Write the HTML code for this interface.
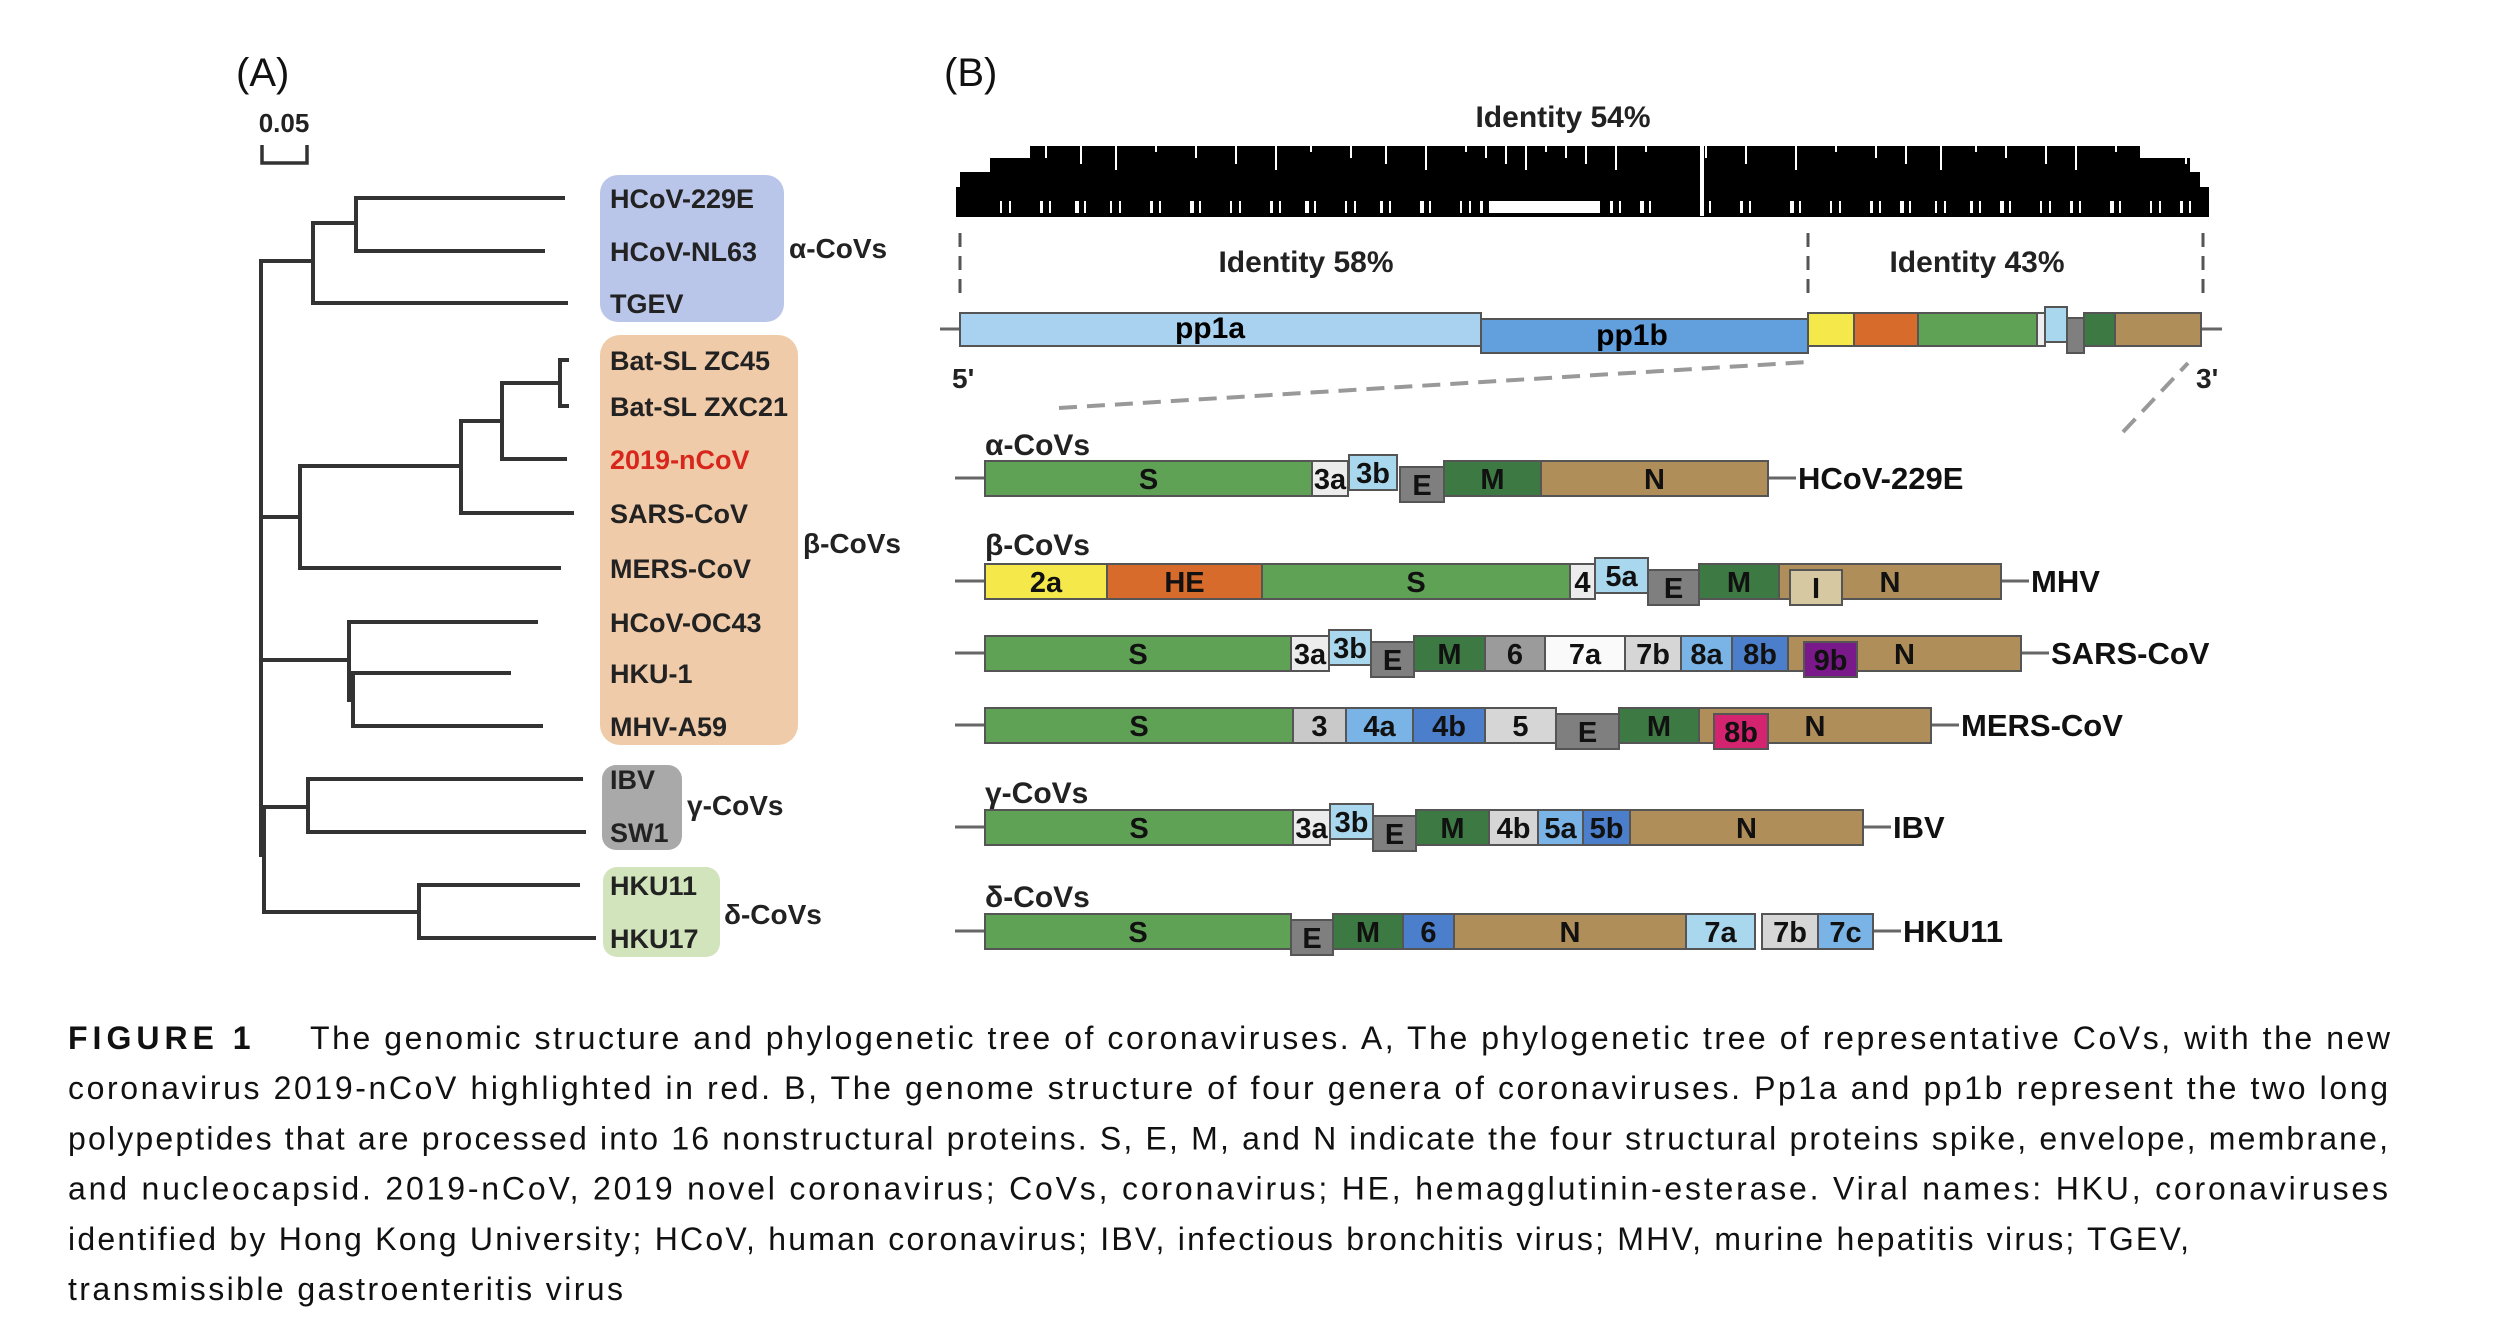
<!DOCTYPE html>
<html><head><meta charset="utf-8"><style>
html,body{margin:0;padding:0;background:#fff;}
svg{display:block;}
.t{font-family:"Liberation Sans",sans-serif;}
.n{font-family:"Liberation Sans Narrow","Liberation Sans",sans-serif;}
</style></head><body>
<svg id="fig" width="2500" height="1333" viewBox="0 0 2500 1333" xmlns="http://www.w3.org/2000/svg">
<rect width="2500" height="1333" fill="#fff"/>
<text class="t" x="236" y="86" font-size="40" fill="#111">(A)</text>
<text class="t" x="944" y="86" font-size="40" fill="#111">(B)</text>
<g>
<text class="t" x="284" y="132" font-size="26" font-weight="bold" text-anchor="middle" fill="#222">0.05</text>
<path d="M262 145 V163 H307 V145" fill="none" stroke="#333" stroke-width="3.5"/>
</g>
<g>
<rect x="600" y="175" width="184" height="147" rx="18" fill="#b9c5e9"/>
<rect x="600" y="335" width="198" height="410" rx="20" fill="#efcba9"/>
<rect x="602" y="765" width="80" height="85" rx="14" fill="#a9a9a9"/>
<rect x="603" y="867" width="117" height="90" rx="14" fill="#d2e4bb"/>
</g>
<g id="tree" fill="none" stroke="#333" stroke-width="4"></g>
<g id="leaves"></g>
<g class="t" font-size="28" font-weight="bold" fill="#222">
<text x="789" y="258">α-CoVs</text>
<text x="803" y="553">β-CoVs</text>
<text x="687" y="815">γ-CoVs</text>
<text x="724" y="924">δ-CoVs</text>
</g>

<text class="n" x="1563" y="127" font-size="30" font-weight="bold" text-anchor="middle" fill="#222">Identity 54%</text>
<g id="barcode"></g>
<g stroke="#555" stroke-width="3" stroke-dasharray="14,9">
<line x1="960" y1="233" x2="960" y2="295"/><line x1="1808" y1="233" x2="1808" y2="300"/><line x1="2203" y1="233" x2="2203" y2="300"/>
</g>
<text class="n" x="1306" y="272" font-size="30" font-weight="bold" text-anchor="middle" fill="#222">Identity 58%</text>
<text class="n" x="1977" y="272" font-size="30" font-weight="bold" text-anchor="middle" fill="#222">Identity 43%</text>
<g id="genome"></g>
<text class="n" x="952" y="388" font-size="28" font-weight="bold" fill="#222">5'</text>
<text class="n" x="2196" y="388" font-size="28" font-weight="bold" fill="#222">3'</text>
<g stroke="#999" stroke-width="4" stroke-dasharray="18,10">
<line x1="1059" y1="408" x2="1808" y2="362"/><line x1="2123" y1="432" x2="2188" y2="363"/>
</g>
<g id="rows"></g>
<g class="n" font-size="30" font-weight="bold" fill="#222">
<text x="985" y="455">α-CoVs</text><text x="985" y="555">β-CoVs</text><text x="985" y="803">γ-CoVs</text><text x="985" y="907">δ-CoVs</text>
</g>
<g id="caption" class="t" font-size="32" fill="#111"></g>
</svg>
<script>
const NS="http://www.w3.org/2000/svg";
const treeSegs=[[261,261,261,855],[261,261,313,261],[313,223,313,303],[313,223,356,223],[356,198,356,251],[356,198,563,198],[356,251,543,251],[313,303,566,303],
[261,517,300,517],[300,466,300,568],[300,466,461,466],[300,568,559,568],[461,421,461,513],[461,421,502,421],[461,513,572,513],[502,383,502,459],[502,383,560,383],[502,459,565,459],[560,360,560,406],[560,360,567,360],[560,406,567,406],
[261,660,349,660],[349,622,349,700],[349,622,536,622],[349,700,353,700],[353,673,353,726],[353,673,509,673],[353,726,541,726],
[261,855,264,855],[264,807,264,912],[264,807,308,807],[308,779,308,832],[308,779,581,779],[308,832,584,832],[264,912,419,912],[419,885,419,938],[419,885,578,885],[419,938,594,938]];
const leafNames=["HCoV-229E","HCoV-NL63","TGEV","Bat-SL ZC45","Bat-SL ZXC21","2019-nCoV","SARS-CoV","MERS-CoV","HCoV-OC43","HKU-1","MHV-A59","IBV","SW1","HKU11","HKU17"];
const leafY=[198,251,303,360,406,459,513,568,622,673,726,779,832,885,938];
const tree=document.getElementById('tree');
treeSegs.forEach(s=>{const l=document.createElementNS(NS,'line');
l.setAttribute('x1',s[0]);l.setAttribute('y1',s[1]);l.setAttribute('x2',s[2]);l.setAttribute('y2',s[3]);
l.setAttribute('stroke-linecap','square');


tree.appendChild(l);});
const leaves=document.getElementById('leaves');
leafNames.forEach((n,i)=>{const t=document.createElementNS(NS,'text');
t.setAttribute('x',610);t.setAttribute('y',leafY[i]+10);t.setAttribute('class','t');
t.setAttribute('font-size','27');t.setAttribute('font-weight','bold');
t.setAttribute('fill',n==='2019-nCoV'?'#d8261c':'#222');t.textContent=n;


leaves.appendChild(t);});

const bc=document.getElementById('barcode');
function rect(p,x,y,w,h,f,st){const r=document.createElementNS(NS,'rect');r.setAttribute('x',x);r.setAttribute('y',y);r.setAttribute('width',w);r.setAttribute('height',h);r.setAttribute('fill',f);if(st){r.setAttribute('stroke',st);r.setAttribute('stroke-width','2');}p.appendChild(r);return r;}
rect(bc,956,187,1253,30,'#000');
rect(bc,960,172,1240,16,'#000');
rect(bc,990,158,1200,15,'#000');
rect(bc,1030,146,1110,13,'#000');
const gapX=[1000,1040,1075,1110,1150,1190,1230,1270,1305,1345,1380,1420,1460,1480,1500,1520,1540,1560,1580,1610,1640,1700,1740,1790,1830,1870,1900,1935,1970,2000,2040,2070,2110,2150,2180];
gapX.forEach((x,i)=>{rect(bc,x,201,(i%3)+2,12,'#fff');rect(bc,x+9,201,2,12,'#fff');rect(bc,x+5,146,2,(i%4)*6+6,'#fff');});
rect(bc,1490,201,110,12,'#fff');
rect(bc,1700,146,4,70,'#fff');

const g=document.getElementById('genome');
const gl=document.createElementNS(NS,'line');gl.setAttribute('x1',940);gl.setAttribute('x2',2222);gl.setAttribute('y1',329);gl.setAttribute('y2',329);gl.setAttribute('stroke','#666');gl.setAttribute('stroke-width','3');g.appendChild(gl);
const gStart=[0,521,848,894,958,1077,1085,1107,1124,1155];
const gEnd=[521,848,894,958,1077,1085,1107,1124,1155,1241];
const gCol=['#a8d2ef','#62a0dd','#f4e84a','#d76b2c','#5fa155','#eeeeee','#a9d8ee','#7f7f7f','#3d7a43','#b08e5a'];
const gOff=[[313,33],[319,34],[313,33],[313,33],[313,33],[313,33],[307,35],[318,35],[313,33],[313,33]];
const gx=v=>960+v;
gStart.forEach((s,i)=>{const r=rect(g,gx(s),gOff[i][0],gEnd[i]-s,gOff[i][1],gCol[i],'#555');

});
const t1=document.createElementNS(NS,'text');t1.setAttribute('x',1210);t1.setAttribute('y',338);t1.setAttribute('class','n');t1.setAttribute('font-size','30');t1.setAttribute('font-weight','bold');t1.setAttribute('text-anchor','middle');t1.textContent='pp1a';g.appendChild(t1);
const t2=document.createElementNS(NS,'text');t2.setAttribute('x',1632);t2.setAttribute('y',345);t2.setAttribute('class','n');t2.setAttribute('font-size','30');t2.setAttribute('font-weight','bold');t2.setAttribute('text-anchor','middle');t2.textContent='pp1b';g.appendChild(t2);

const C={S:'#5fa155',w:'#ececec',lb:'#a9d8ee',E:'#7f7f7f',M:'#3d7a43',N:'#b08e5a',y:'#f4e84a',o:'#d76b2c',I:'#d6c9a2',g6:'#9b9b9b',wh:'#fafafa',lg:'#d6d6d6',mb:'#7ab4e6',db:'#4b7fcc',pu:'#7a1a8a',mg:'#d4246f',g3:'#c9c9c9'};
const rowNames=['HCoV-229E','MHV','SARS-CoV','MERS-CoV','IBV','HKU11'];
const rowY=[478,581,653,725,827,931];
const rowSegs=[
[['S',0,327,'S',0],['3a',327,363,'w',0],['3b',364,412,'lb',-1],['E',415,459,'E',1],['M',459,556,'M',0],['N',556,783,'N',0]],
[['2a',0,122,'y',0],['HE',122,277,'o',0],['S',277,585,'S',0],['4',585,610,'w',0],['5a',610,663,'lb',-1],['E',663,714,'E',1],['M',714,794,'M',0],['N',794,1016,'N',0],['I',805,857,'I',1]],
[['S',0,306,'S',0],['3a',306,344,'w',0],['3b',344,386,'lb',-1],['E',386,429,'E',1],['M',429,500,'M',0],['6',500,560,'g6',0],['7a',560,640,'wh',0],['7b',640,696,'lg',0],['8a',696,747,'mb',0],['8b',747,803,'db',0],['N',803,1036,'N',0],['9b',819,872,'pu',1]],
[['S',0,308,'S',0],['3',308,361,'g3',0],['4a',361,428,'mb',0],['4b',428,500,'db',0],['5',500,571,'lg',0],['E',571,634,'E',1],['M',634,714,'M',0],['N',714,946,'N',0],['8b',729,783,'mg',1]],
[['S',0,308,'S',0],['3a',308,345,'w',0],['3b',345,388,'lb',-1],['E',388,431,'E',1],['M',431,504,'M',0],['4b',504,553,'lg',0],['5a',553,598,'mb',0],['5b',598,645,'db',0],['N',645,878,'N',0]],
[['S',0,306,'S',0],['E',306,348,'E',1],['M',348,418,'M',0],['6',418,469,'db',0],['N',469,701,'N',0],['7a',701,770,'lb',0],['7b',777,833,'lg',0],['7c',833,888,'mb',0]]];
const rx=v=>985+v;
const rows=document.getElementById('rows');
rowSegs.forEach((segs,ri)=>{
 const yc=rowY[ri];const grp=document.createElementNS(NS,'g');
 
 
 rows.appendChild(grp);
 const endV=Math.max(...segs.map(s=>s[2]));
 const a=document.createElementNS(NS,'line');a.setAttribute('x1',rx(-30));a.setAttribute('x2',rx(0));a.setAttribute('y1',yc);a.setAttribute('y2',yc);a.setAttribute('stroke','#666');a.setAttribute('stroke-width','3');grp.appendChild(a);
 const b=document.createElementNS(NS,'line');b.setAttribute('x1',rx(endV));b.setAttribute('x2',rx(endV)+28);b.setAttribute('y1',yc);b.setAttribute('y2',yc);b.setAttribute('stroke','#666');b.setAttribute('stroke-width','3');grp.appendChild(b);
 segs.forEach(s=>{
  const top=yc-17+s[4]*6;
  const r=rect(grp,rx(s[1]),top,s[2]-s[1],35,C[s[3]],'#555');
  
  
  const t=document.createElementNS(NS,'text');
  t.setAttribute('x',rx((s[1]+s[2])/2));t.setAttribute('y',top+28);t.setAttribute('class','n');
  t.setAttribute('font-size','29');t.setAttribute('font-weight','bold');t.setAttribute('text-anchor','middle');
  t.setAttribute('fill','#111');t.textContent=s[0];grp.appendChild(t);
 });
 const lab=document.createElementNS(NS,'text');lab.setAttribute('x',rx(endV)+30);lab.setAttribute('y',yc+11);lab.setAttribute('class','n');lab.setAttribute('font-size','31');lab.setAttribute('font-weight','bold');lab.setAttribute('fill','#111');lab.textContent=rowNames[ri];
 
 
 grp.appendChild(lab);
});

const cap=document.getElementById('caption');
const capLines=["The genomic structure and phylogenetic tree of coronaviruses. A, The phylogenetic tree of representative CoVs, with the new",
"coronavirus 2019-nCoV highlighted in red. B, The genome structure of four genera of coronaviruses. Pp1a and pp1b represent the two long",
"polypeptides that are processed into 16 nonstructural proteins. S, E, M, and N indicate the four structural proteins spike, envelope, membrane,",
"and nucleocapsid. 2019-nCoV, 2019 novel coronavirus; CoVs, coronavirus; HE, hemagglutinin-esterase. Viral names: HKU, coronaviruses",
"identified by Hong Kong University; HCoV, human coronavirus; IBV, infectious bronchitis virus; MHV, murine hepatitis virus; TGEV,",
"transmissible gastroenteritis virus"];
const capW=[2080,2320,2320,2320,2121,555];
capLines.forEach((l,i)=>{const t=document.createElementNS(NS,'text');
 const y=1049+i*50.2;
 t.setAttribute('y',y);
 if(i===0){
  const f=document.createElementNS(NS,'text');f.setAttribute('x',68);f.setAttribute('y',y);f.setAttribute('font-weight','bold');f.setAttribute('letter-spacing','5');f.setAttribute('font-size','32');f.textContent='FIGURE 1';
  
  
  cap.appendChild(f);
  t.setAttribute('x',310);
 } else t.setAttribute('x',68);
 t.setAttribute('textLength',capW[i]);t.setAttribute('lengthAdjust','spacing');
 t.textContent=l;
 
 
 cap.appendChild(t);});
</script>
</body></html>
